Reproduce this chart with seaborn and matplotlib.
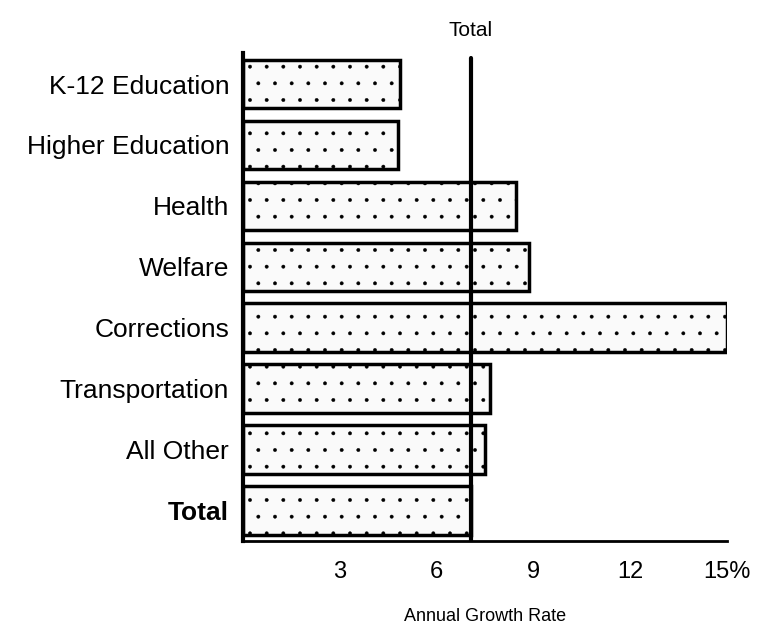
import matplotlib
matplotlib.use('Agg')
import matplotlib.pyplot as plt
import seaborn as sns
import pandas as pd

# 데이터
categories = ['K-12 Education', 'Higher Education', 'Health', 'Welfare',
              'Corrections', 'Transportation', 'All Other', 'Total']
growth = [4.85, 4.8, 8.45, 8.85, 15.0, 7.65, 7.5, 7.05]
total_rate = 7.05
tick_vals = [3, 6, 9, 12, 15]
tick_labels = ['3', '6', '9', '12', '15%']

df = pd.DataFrame({'category': categories, 'growth': growth})

sns.set_style('white')
plt.rcParams['font.family'] = ['Liberation Sans', 'DejaVu Sans']
plt.rcParams['hatch.color'] = '#d8d8d8'
plt.rcParams['hatch.linewidth'] = 0.3
for k in ['text.color', 'axes.labelcolor', 'xtick.color', 'ytick.color', 'axes.edgecolor']:
    plt.rcParams[k] = 'black'

fig = plt.figure(figsize=(7.72, 6.27), dpi=100)
ax = fig.add_axes([0.3148, 0.137, 0.627, 0.7785])

sns.barplot(data=df, x='growth', y='category', orient='h', ax=ax,
            color='#fafafa', edgecolor='black', linewidth=2.5, width=0.8,
            hatch='.', saturation=1)

# 전체 평균 기준선
ax.axvline(total_rate, color='black', lw=3, ymax=0.99, zorder=5)
ax.text(total_rate, -0.72, 'Total', ha='center', va='bottom', fontsize=15,
        clip_on=False)

ax.set_xlim(0, 15)
ax.set_ylim(7.5, -0.51)
ax.set_xticks(tick_vals)
ax.set_xticklabels(tick_labels, fontsize=17)
ax.tick_params(axis='x', direction='out', length=6, width=2, pad=8)
ax.tick_params(axis='y', length=0, pad=10, labelsize=19)
for lbl in ax.get_yticklabels():
    if lbl.get_text() == 'Total':
        lbl.set_fontweight('bold')

sns.despine(ax=ax, top=True, right=True)
ax.spines['left'].set_linewidth(3)
ax.spines['bottom'].set_linewidth(2)
ax.set_xlabel('Annual Growth Rate', fontsize=13, labelpad=18)
ax.set_ylabel('')

fig.savefig('out.png', dpi=100)
